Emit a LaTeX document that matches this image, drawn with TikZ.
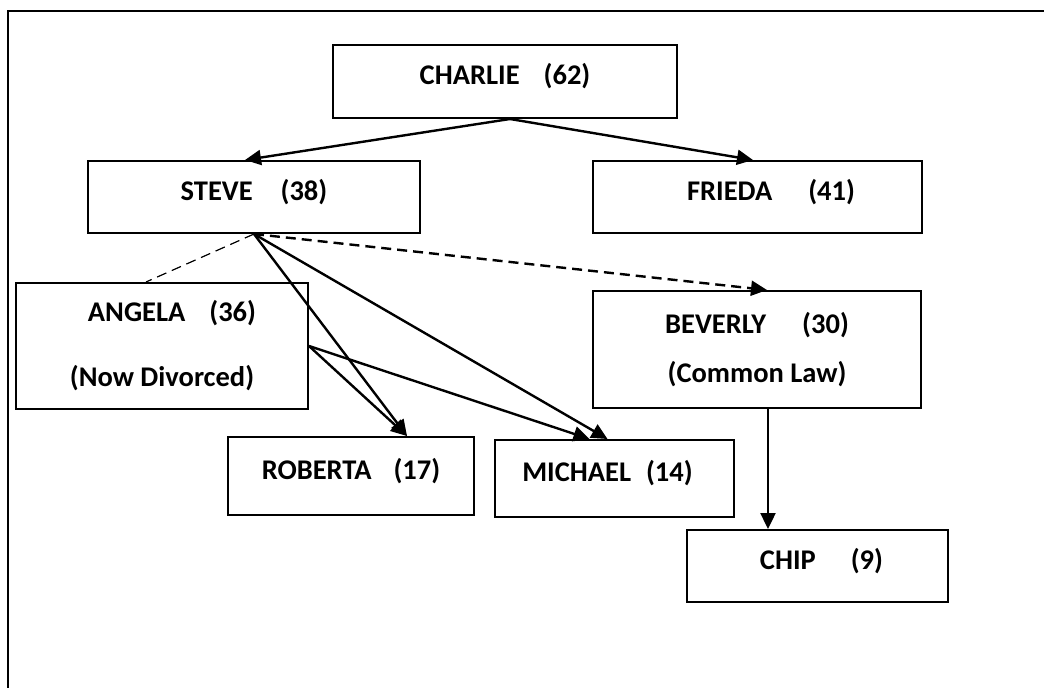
\documentclass[tikz,border=0pt]{standalone}
\usepackage{fontspec}
\setmainfont{Carlito}
\usetikzlibrary{arrows.meta}
\newcommand{\agegap}[1]{\hspace{#1pt}}

\begin{document}
\begin{tikzpicture}[x=1pt,y=-1pt,>={Triangle[length=16pt,width=15pt]},
  box/.style={draw,line width=2pt,inner sep=0pt,font=\fontsize{28.5pt}{34pt}\selectfont\bfseries},
  oneline/.style={box,text height=20pt,text depth=14pt},
  twoline/.style={box,align=center},
  link/.style={->,line width=2.4pt},
  union/.style={dash pattern=on 10pt off 6pt}]
  \useasboundingbox (0,0) rectangle (1044,688);
  \draw[line width=2.4pt] (1044,11)--(8,11)--(8,688);
  % family boxes
  \node[oneline,minimum width=344pt,minimum height=73pt] (charlie) at (505,81.5) {CHARLIE\agegap{24}(62)};
  \node[oneline,minimum width=332pt,minimum height=72pt] (steve) at (254,197) {STEVE\agegap{28}(38)};
  \node[oneline,minimum width=329pt,minimum height=72pt] (frieda) at (757.5,197) {\hspace*{27pt}FRIEDA\agegap{36}(41)};
  \node[twoline,minimum width=292pt,minimum height=126pt] (angela) at (162,346) {\hspace*{20pt}ANGELA\agegap{24}(36)\\[31pt](Now Divorced)};
  \node[twoline,minimum width=328pt,minimum height=117pt] (beverly) at (757,349.5) {BEVERLY\agegap{36}(30)\\[15pt](Common Law)};
  \node[oneline,minimum width=246pt,minimum height=78pt] (roberta) at (351,476) {ROBERTA\agegap{22}(17)};
  \node[oneline,minimum width=239pt,minimum height=77pt] (michael) at (614.5,478.5) {MICHAEL\agegap{15}(14)\hspace*{14pt}};
  \node[oneline,minimum width=261pt,minimum height=72pt] (chip) at (817.5,566) {\hspace*{8pt}CHIP\agegap{35}(9)};
  % links
  \coordinate (top) at ([xshift=5pt]charlie.south);
  \draw[link] (top)--([xshift=-9pt]steve.north);
  \draw[link] (top)--([xshift=-4.5pt]frieda.north);
  \draw[union,line width=1.2pt] (steve.south)--([xshift=-16pt]angela.north);
  \draw[link,union] (steve.south)--([xshift=10pt]beverly.north);
  \draw[link] (steve.south)--([xshift=56pt]roberta.north);
  \draw[link] (steve.south)--([xshift=-7pt]michael.north);
  \draw[link] (angela.east)--([xshift=56pt]roberta.north);
  \draw[link] (angela.east)--([xshift=-25pt]michael.north);
  \draw[link] ([xshift=11pt]beverly.south) coordinate (drop)--(drop |- chip.north);
\end{tikzpicture}
\end{document}
